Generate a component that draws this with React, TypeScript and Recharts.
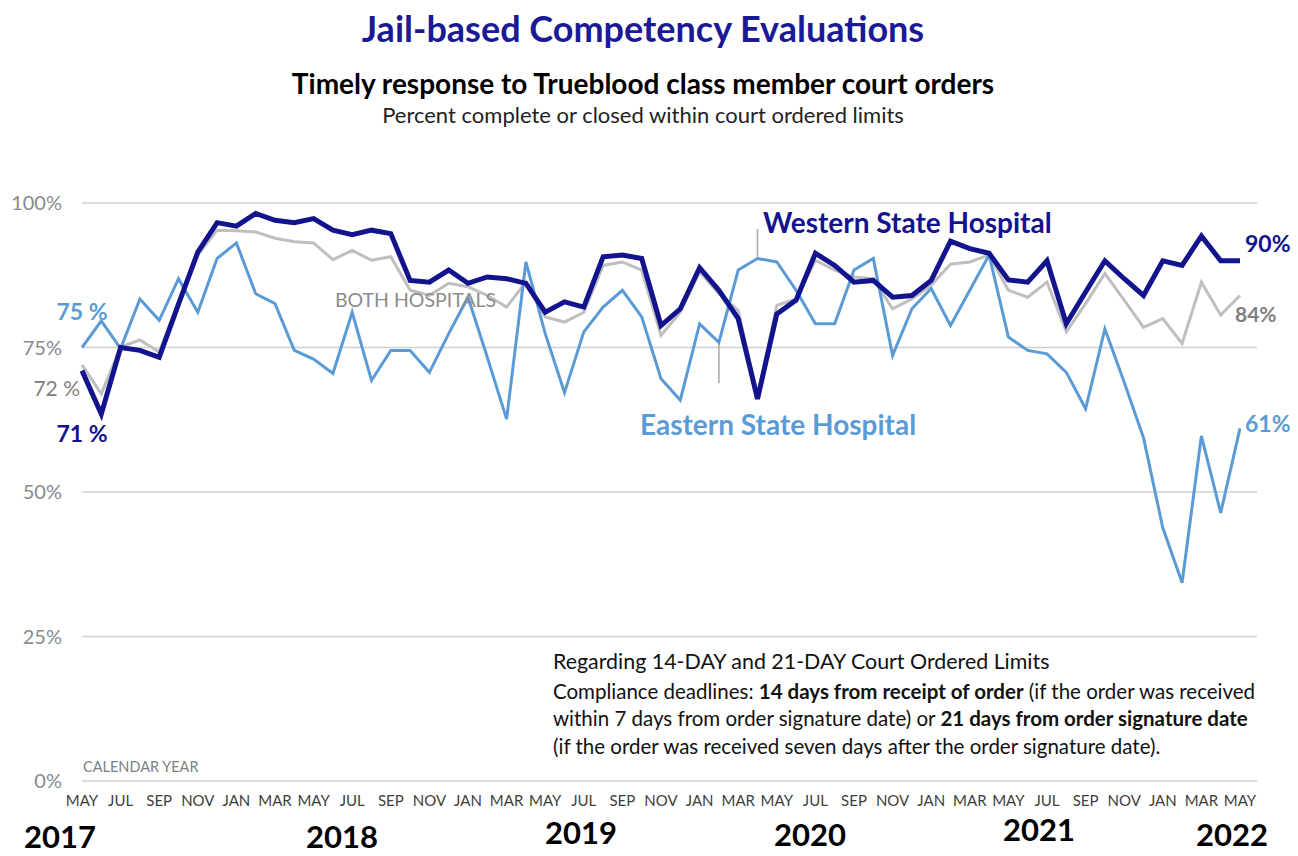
import React from "react";
import {
  LineChart,
  Line,
  XAxis,
  YAxis,
  CartesianGrid,
  ReferenceLine,
  LabelList,
} from "recharts";

const months = [
  "MAY 2017", "JUN 2017", "JUL 2017", "AUG 2017", "SEP 2017", "OCT 2017", "NOV 2017", "DEC 2017",
  "JAN 2018", "FEB 2018", "MAR 2018", "APR 2018", "MAY 2018", "JUN 2018", "JUL 2018", "AUG 2018",
  "SEP 2018", "OCT 2018", "NOV 2018", "DEC 2018",
  "JAN 2019", "FEB 2019", "MAR 2019", "APR 2019", "MAY 2019", "JUN 2019", "JUL 2019", "AUG 2019",
  "SEP 2019", "OCT 2019", "NOV 2019", "DEC 2019",
  "JAN 2020", "FEB 2020", "MAR 2020", "APR 2020", "MAY 2020", "JUN 2020", "JUL 2020", "AUG 2020",
  "SEP 2020", "OCT 2020", "NOV 2020", "DEC 2020",
  "JAN 2021", "FEB 2021", "MAR 2021", "APR 2021", "MAY 2021", "JUN 2021", "JUL 2021", "AUG 2021",
  "SEP 2021", "OCT 2021", "NOV 2021", "DEC 2021",
  "JAN 2022", "FEB 2022", "MAR 2022", "APR 2022", "MAY 2022",
];

const western = [
  71, 63.5, 75, 74.5, 73.3, 82.5, 91.5, 96.6, 96, 98.2, 97, 96.6, 97.3, 95.3, 94.5, 95.3,
  94.7, 86.6, 86.3, 88.4, 86.1, 87.2, 86.9, 86.1, 81.1, 82.9, 82, 90.7, 91, 90.4, 78.8, 81.7,
  88.8, 84.9, 80, 66.1, 80.8, 83.2, 91.3, 89.2, 86.3, 86.6, 83.7, 84, 86.6, 93.4, 92.1, 91.3,
  86.7, 86.3, 90, 79.1, 84.6, 90, 86.9, 84, 90, 89.2, 94.3, 90, 90,
];

const bothHospitals = [
  72, 67, 75.1, 76.3, 74.2, 82.9, 91, 95.3, 95.2, 95, 93.9, 93.3, 93.1, 90.2, 91.8, 90.1,
  90.7, 84.9, 84, 86.1, 85.5, 84, 82, 86.3, 80.3, 79.4, 81.1, 89.2, 89.8, 88.4, 77.1, 81.1,
  88.1, 84.3, 81.4, 66.5, 82.3, 83.4, 90.1, 88.4, 87.2, 86.9, 81.7, 83.4, 85.8, 89.4, 89.8, 91,
  84.9, 83.7, 86.3, 77.7, 82.6, 87.8, 83.2, 78.5, 80, 75.7, 86.3, 80.6, 84,
];

const eastern = [
  75, 79.6, 74.8, 83.4, 79.7, 86.9, 81.1, 90.4, 93.1, 84.3, 82.6, 74.5, 73, 70.5, 81.1, 69.3,
  74.5, 74.5, 70.7, 77.4, 83.7, 73.3, 62.6, 89.8, 77.4, 67.2, 77.7, 82, 84.9, 80.3, 69.6, 65.9,
  79.1, 75.9, 88.4, 90.4, 89.8, 84.9, 79.1, 79.1, 88.4, 90.4, 73.6, 81.7, 85.2, 78.8, 84.9, 91,
  76.8, 74.5, 73.9, 70.7, 64.4, 78.2, 69, 59.4, 43.8, 34.3, 59.7, 46.4, 61,
];

const yTicks = [0, 25, 50, 75, 100];
const years = ["2017", "2018", "2019", "2020", "2021", "2022"];

const data = months.map((m, i) => ({
  month: m,
  western: western[i],
  both: bothHospitals[i],
  eastern: eastern[i],
}));

const NAVY = "#13138e";
const LIGHT = "#5b9bd5";
const GRAY = "#bfbfbf";
const FONT = "Lato, sans-serif";

// labels only on the first and last point of a series
const endLabel =
  (color: string, first: any, last: any) => (props: any) => {
    const { x, y, value, index } = props;
    const opt = index === 0 ? first : index === months.length - 1 ? last : null;
    if (!opt) return null;
    return (
      <text
        x={x + opt.dx}
        y={y + opt.dy}
        fill={color}
        fontSize={opt.size ?? 23}
        fontWeight={opt.weight ?? 700}
        fontFamily={FONT}
        textAnchor={opt.anchor}
        dominantBaseline="central"
      >
        {Math.round(value) + (index === 0 ? " %" : "%")}
      </text>
    );
  };

const Txt = ({ x, y, size, color = "#000", weight = 400, center = false, children }: any) => (
  <div
    style={{
      position: "absolute",
      left: x,
      top: y - size / 2,
      fontSize: size,
      lineHeight: 1,
      color,
      fontWeight: weight,
      whiteSpace: "nowrap",
      transform: center ? "translateX(-50%)" : undefined,
    }}
  >
    {children}
  </div>
);

const yearCenters = [60, 342, 581, 810, 1039, 1232];
const yearY = [836, 836, 832, 834, 829, 834];

export default function App() {
  return (
    <div
      style={{
        position: "absolute",
        left: 0,
        top: 0,
        width: 1298,
        height: 856,
        background: "#fff",
        fontFamily: FONT,
        overflow: "hidden",
      }}
    >
      <LineChart
        width={1298}
        height={856}
        data={data}
        margin={{ top: 203, right: 41, bottom: 45, left: 22 }}
      >
        <CartesianGrid vertical={false} stroke="#d0d0d0" strokeWidth={1.5} />
        <XAxis
          dataKey="month"
          interval={1}
          tickLine={false}
          axisLine={false}
          tickSize={6}
          tickMargin={8}
          padding={{ left: 0, right: 17 }}
          tickFormatter={(m: string) => m.split(" ")[0]}
          tick={{ fill: "#404040", fontSize: 15, fontFamily: FONT }}
        />
        <YAxis
          domain={[0, 100]}
          ticks={yTicks}
          width={60}
          tickLine={false}
          axisLine={false}
          tickSize={10}
          tickMargin={10}
          tickFormatter={(v: number) => `${v}%`}
          tick={{ fill: "#8a8a8a", fontSize: 20, fontFamily: FONT }}
        />
        <ReferenceLine
          segment={[
            { x: months[35], y: 95.5 },
            { x: months[35], y: 90.7 },
          ]}
          stroke="#a6a6a6"
          strokeWidth={1.5}
        />
        <ReferenceLine
          segment={[
            { x: months[33], y: 75.9 },
            { x: months[33], y: 68.8 },
          ]}
          stroke="#a6a6a6"
          strokeWidth={1.5}
        />
        <Line
          dataKey="both"
          stroke={GRAY}
          strokeWidth={3}
          dot={false}
          activeDot={false}
          isAnimationActive={false}
        >
          <LabelList
            dataKey="both"
            content={endLabel(
              "#808080",
              { dx: -2, dy: 23, anchor: "end", weight: 400, size: 21 },
              { dx: -5, dy: 18, anchor: "start", size: 21 }
            )}
          />
        </Line>
        <Line
          dataKey="eastern"
          stroke={LIGHT}
          strokeWidth={3}
          dot={false}
          activeDot={false}
          isAnimationActive={false}
        >
          <LabelList
            dataKey="eastern"
            content={endLabel(
              LIGHT,
              { dx: 0, dy: -37, anchor: "middle" },
              { dx: 5, dy: -5, anchor: "start" }
            )}
          />
        </Line>
        <Line
          dataKey="western"
          stroke={NAVY}
          strokeWidth={5}
          dot={false}
          activeDot={false}
          isAnimationActive={false}
        >
          <LabelList
            dataKey="western"
            content={endLabel(
              NAVY,
              { dx: 0, dy: 62, anchor: "middle" },
              { dx: 5, dy: -18, anchor: "start" }
            )}
          />
        </Line>
      </LineChart>

      <Txt x={643} y={28} size={36} color="#1a1a96" weight={700} center>
        Jail-based Competency Evaluations
      </Txt>
      <Txt x={643} y={83} size={28} weight={700} center>
        Timely response to Trueblood class member court orders
      </Txt>
      <Txt x={643} y={115} size={22} color="#222" center>
        Percent complete or closed within court ordered limits
      </Txt>

      <Txt x={763} y={222} size={28} color={NAVY} weight={700}>
        Western State Hospital
      </Txt>
      <Txt x={640} y={424} size={28} color={LIGHT} weight={700}>
        Eastern State Hospital
      </Txt>
      <Txt x={335} y={300} size={19.5} color="#8c8c8c">
        BOTH HOSPITALS
      </Txt>
      <Txt x={83} y={767} size={14.5} color="#7f7f7f">
        CALENDAR YEAR
      </Txt>

      <Txt x={553} y={662} size={21.4} color="#111">
        Regarding 14-DAY and 21-DAY Court Ordered Limits
      </Txt>
      <Txt x={553} y={691} size={20.5} color="#111">
        Compliance deadlines: <b>14 days from receipt of order</b> (if the order was received
      </Txt>
      <Txt x={553} y={718} size={20.5} color="#111">
        within 7 days from order signature date) or <b>21 days from order signature date</b>
      </Txt>
      <Txt x={553} y={746} size={20.5} color="#111">
        (if the order was received seven days after the order signature date).
      </Txt>

      {years.map((yr, i) => (
        <Txt key={yr} x={yearCenters[i]} y={yearY[i]} size={31} weight={700} center>
          {yr}
        </Txt>
      ))}
    </div>
  );
}
